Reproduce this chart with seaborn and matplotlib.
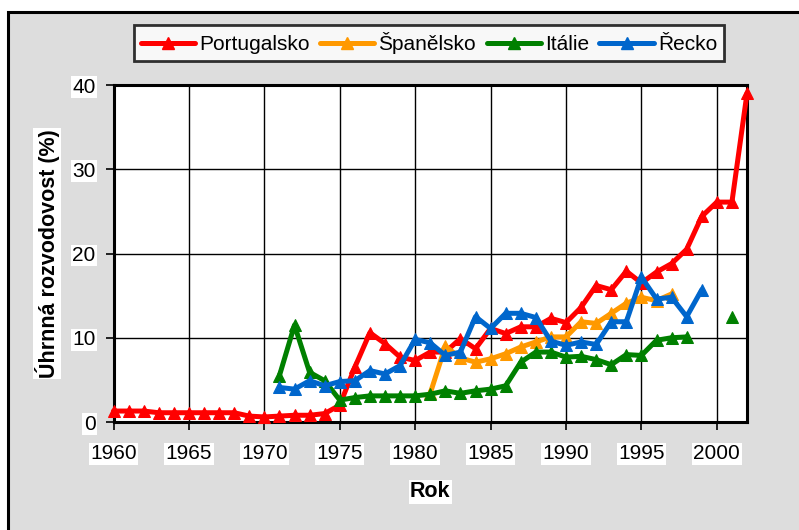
import numpy as np
import pandas as pd
import matplotlib
matplotlib.use("Agg")
import matplotlib.pyplot as plt
from matplotlib.patches import Rectangle
from matplotlib.lines import Line2D
import seaborn as sns

# ---- data ----
countries = ["Portugalsko", "Španělsko", "Itálie", "Řecko"]
colors = ["#FF0000", "#FF9900", "#008000", "#0066CC"]

years_pt = list(range(1960, 2003))
vals_pt = [1.3, 1.3, 1.3, 1.1, 1.1, 1.1, 1.1, 1.1, 1.1, 0.7,
           0.6, 0.7, 0.8, 0.8, 1.0, 2.0, 6.5, 10.6, 9.3, 7.7,
           7.3, 8.3, 8.3, 9.9, 8.7, 11.1, 10.5, 11.3, 11.3, 12.3,
           11.8, 13.6, 16.2, 15.7, 17.9, 16.5, 17.8, 18.8, 20.5, 24.4,
           26.1, 26.1, 39.0]

years_es = list(range(1981, 1998))
vals_es = [3.4, 9.0, 7.6, 7.1, 7.5, 8.1, 8.9, 9.5, 10.1, 10.1,
           11.9, 11.7, 12.9, 14.1, 14.8, 14.4, 15.2]

years_it = list(range(1971, 1999)) + [2001]
vals_it = [5.5, 11.5, 5.9, 4.9, 2.6, 2.9, 3.1, 3.1, 3.1, 3.1,
           3.3, 3.7, 3.4, 3.7, 3.9, 4.3, 7.1, 8.3, 8.3, 7.7,
           7.8, 7.4, 6.8, 8.0, 7.9, 9.7, 10.0, 10.1, 12.5]
segs_it = [0] * 28 + [1]

years_gr = list(range(1971, 2000))
vals_gr = [4.1, 3.9, 4.9, 4.3, 4.8, 4.9, 6.1, 5.7, 6.7, 9.8,
           9.4, 7.9, 8.3, 12.5, 11.1, 12.9, 12.9, 12.4, 9.6, 9.1,
           9.5, 9.2, 11.9, 11.9, 17.2, 14.6, 14.8, 12.5, 15.7]

x_ticks = list(range(1960, 2001, 5))
y_ticks = [0, 10, 20, 30, 40]

frames = [
    pd.DataFrame({"Rok": years_pt, "val": vals_pt, "country": countries[0], "seg": 0}),
    pd.DataFrame({"Rok": years_es, "val": vals_es, "country": countries[1], "seg": 0}),
    pd.DataFrame({"Rok": years_it, "val": vals_it, "country": countries[2], "seg": segs_it}),
    pd.DataFrame({"Rok": years_gr, "val": vals_gr, "country": countries[3], "seg": 0}),
]
df = pd.concat(frames, ignore_index=True)

sns.set_theme(style="white")
plt.rcParams["font.family"] = ["Liberation Sans", "DejaVu Sans"]

fig = plt.figure(figsize=(7.99, 5.30), dpi=100)
fig.patch.set_facecolor("white")
# gray chart panel with black border
panel = Rectangle((8 / 799, -0.05), 1.2, (530 - 12) / 530 + 0.05,
                  transform=fig.transFigure, facecolor="#DDDDDD",
                  edgecolor="black", linewidth=2.2, zorder=-10)
fig.patches.append(panel)

ax = fig.add_axes([113.5 / 799, (530 - 422) / 530, (747 - 113.5) / 799, (422 - 85) / 530])
ax.set_zorder(1)
ax.set_facecolor("white")

palette = dict(zip(countries, colors))
for c in countries:
    sub = df[df["country"] == c]
    sns.lineplot(data=sub, x="Rok", y="val", units="seg", estimator=None,
                 color=palette[c], marker="^", markersize=9,
                 markeredgecolor=palette[c], linewidth=3.6, ax=ax,
                 legend=False, clip_on=False, zorder=3)

ax.set_xlim(1960, 2002)
ax.set_ylim(0, 40)
ax.set_xticks(x_ticks)
ax.set_yticks(y_ticks)
ax.grid(True, color="black", linewidth=1.0)
ax.set_axisbelow(True)
for s in ax.spines.values():
    s.set_visible(True)
    s.set_color("black")
    s.set_linewidth(2.2)
ax.tick_params(axis="both", which="major", direction="out", length=6,
               width=1.2, color="black", labelsize=15, labelcolor="black",
               bottom=True, left=True)
ax.tick_params(axis="x", pad=10)
ax.tick_params(axis="y", pad=7)
for lbl in ax.get_xticklabels() + ax.get_yticklabels():
    lbl.set_bbox(dict(facecolor="white", edgecolor="none", pad=1))

ax.set_xlabel("Rok", fontsize=15.5, fontweight="bold", labelpad=13, color="black",
              bbox=dict(facecolor="white", edgecolor="none", pad=1))
ax.set_ylabel("Úhrnná rozvodovost (%)", fontsize=15.5, fontweight="bold", color="black",
              labelpad=9, bbox=dict(facecolor="white", edgecolor="none", pad=1))

handles = [Line2D([0], [0], color=col, linewidth=3.6, marker="^",
                  markersize=9, markeredgecolor=col) for col in colors]
leg = fig.legend(handles, countries, loc="center", bbox_to_anchor=(429 / 799, 1 - 43 / 530),
                 ncol=4, frameon=True, fontsize=15, handlelength=2.6,
                 handletextpad=0.2, columnspacing=0.5, borderpad=0.35,
                 fancybox=False, labelcolor="black")
leg.get_frame().set_edgecolor("black")
leg.get_frame().set_linewidth(2.0)
leg.get_frame().set_facecolor("white")

fig.savefig("out.png", dpi=100)
